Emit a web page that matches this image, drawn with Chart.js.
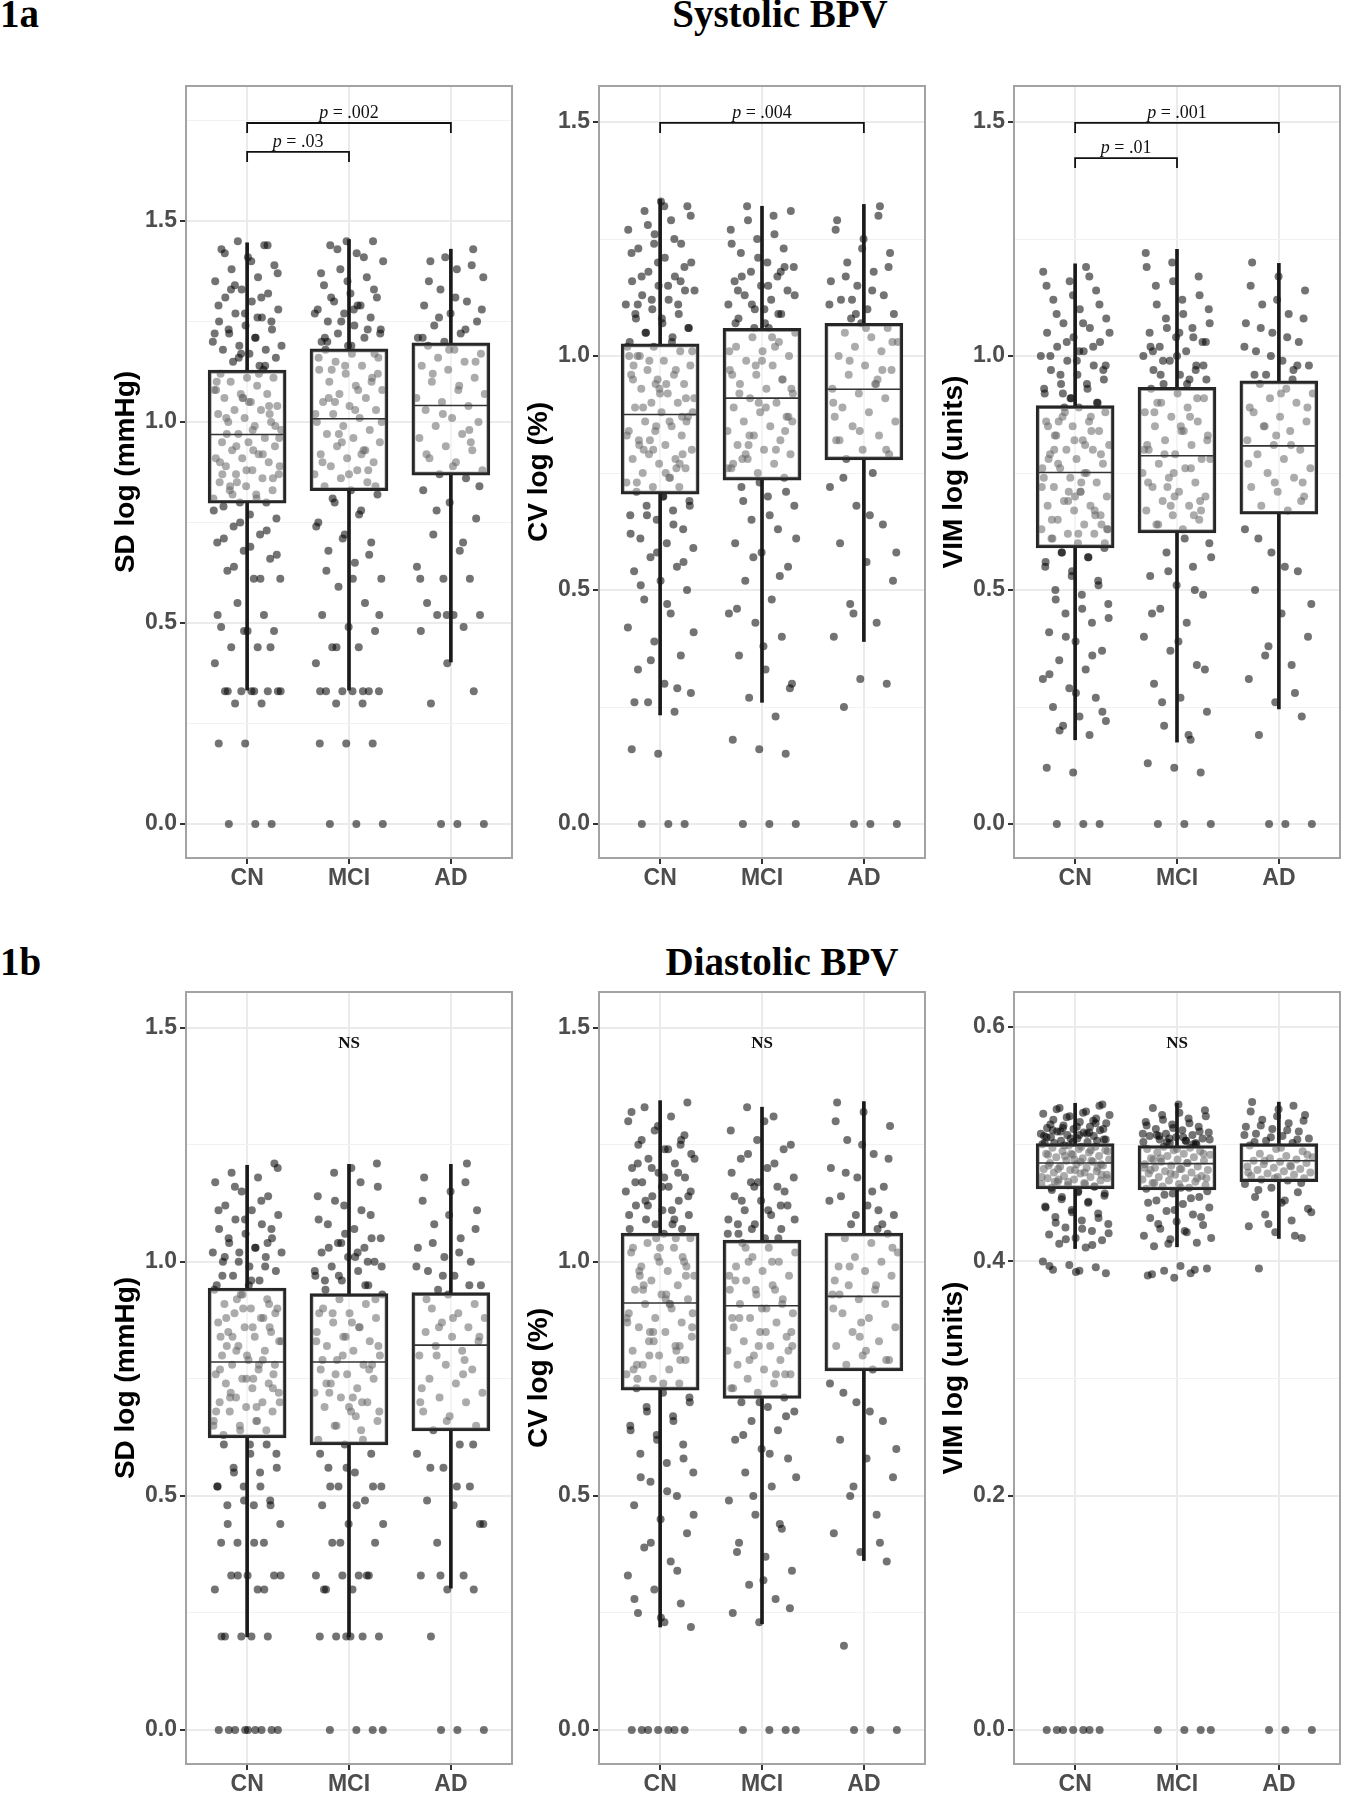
<!DOCTYPE html>
<html>
<head>
<meta charset="utf-8">
<script src="https://cdn.jsdelivr.net/npm/chart.js@4.4.1/dist/chart.umd.min.js"></script>
<style>
  body { margin: 0; background: #fff; width: 1353px; height: 1800px; position: relative; overflow: hidden; }
  .t { position: absolute; font-family: "Liberation Serif", "Times New Roman", serif; font-weight: bold;
       font-size: 39px; line-height: 39px; white-space: nowrap; color: #000; }
  canvas { position: absolute; }
</style>
</head>
<body>
<div class="t" style="left:0; top:-6px;">1a</div>
<div class="t" style="left:780px; top:-6px; transform:translateX(-50%);">Systolic BPV</div>
<div class="t" style="left:0; top:942px;">1b</div>
<div class="t" style="left:782px; top:942px; transform:translateX(-50%);">Diastolic BPV</div>

<script>
// Groups and tick labels
const groups = ['CN', 'MCI', 'AD'];
const ticksMain = [0, 0.5, 1.0, 1.5];
const ticksVimDia = [0, 0.2, 0.4, 0.6];

// Box stats per group: [whisker low, Q1, median, Q3, whisker high]
const sysSdBox  = [[0.333, 0.798, 0.969, 1.129, 1.446], [0.333, 0.829, 1.008, 1.182, 1.454], [0.403, 0.868, 1.041, 1.197, 1.430]];
const sysCvBox  = [[0.233, 0.705, 0.875, 1.026, 1.335], [0.260, 0.735, 0.910, 1.059, 1.320], [0.390, 0.778, 0.929, 1.070, 1.324]];
const sysVimBox = [[0.180, 0.590, 0.751, 0.894, 1.197], [0.175, 0.622, 0.787, 0.933, 1.228], [0.246, 0.662, 0.808, 0.947, 1.198]];
const diaSdBox  = [[0.199, 0.624, 0.786, 0.944, 1.206], [0.199, 0.609, 0.786, 0.932, 1.208], [0.303, 0.639, 0.822, 0.934, 1.208]];
const diaCvBox  = [[0.220, 0.726, 0.912, 1.061, 1.344], [0.227, 0.708, 0.906, 1.046, 1.330], [0.362, 0.767, 0.926, 1.061, 1.342]];
const diaVimBox = [[0.411, 0.462, 0.484, 0.5006, 0.535], [0.4125, 0.461, 0.4835, 0.499, 0.535], [0.4196, 0.468, 0.486, 0.5006, 0.536]];

// Individual subjects
const sysSdCN = [0,0,0,0.20,0.20,0.30,0.30,0.33,0.33,0.33,0.33,0.33,0.40,0.44,0.44,0.48,0.48,0.49,0.52,0.55,0.61,0.61,0.63,0.66,0.68,0.70,0.72,0.74,0.76,0.77,0.79,
  0.80,0.80,0.81,0.82,0.83,0.83,0.84,0.85,0.86,0.87,0.87,0.88,0.89,0.90,0.91,0.91,0.92,0.93,0.94,0.95,0.95,0.96,0.97,0.98,0.99,1.00,1.00,1.01,1.02,1.03,1.03,1.04,1.05,1.06,1.07,1.07,1.08,1.09,1.10,1.11,1.11,1.12,1.13,0.85,0.89,0.93,0.97,1.02,1.06,1.10,
  1.14,1.15,1.16,1.17,1.18,1.18,1.19,1.20,1.21,1.22,1.23,1.24,1.25,1.26,1.27,1.28,1.30,1.31,1.32,1.33,1.35,1.36,1.38,1.39,1.41,1.43,1.44,1.45,
  0.33,0.33,0.33,0.44,0.48,0.52,0.61,0.64,0.67,0.69,0.71,0.73,0.75,0.78,0.81,0.84,0.86,0.88,0.90,0.92,0.94,0.96,0.98,1.01,1.04,1.06,1.08,1.12,0.82,0.99,1.05,0.87,
  1.14,1.16,1.19,1.21,1.23,1.25,1.27,1.29,1.31,1.34,1.37,1.40,1.42,1.44,1.17,1.22,1.26,1.33];
const sysSdMCI = [0,0,0,0.20,0.20,0.20,0.30,0.30,0.33,0.33,0.33,0.33,0.33,0.40,0.44,0.44,0.48,0.49,0.52,0.55,0.59,0.61,0.65,0.68,0.70,0.72,0.75,0.78,0.80,0.82,
  0.83,0.84,0.85,0.86,0.87,0.88,0.89,0.90,0.91,0.92,0.93,0.94,0.95,0.96,0.97,0.98,0.99,1.00,1.01,1.02,1.03,1.04,1.05,1.06,1.07,1.08,1.09,1.10,1.11,1.12,1.13,1.14,1.15,1.16,1.17,1.18,0.88,0.95,1.02,1.08,1.13,1.17,
  1.19,1.20,1.21,1.22,1.23,1.24,1.25,1.26,1.27,1.28,1.29,1.30,1.31,1.32,1.34,1.36,1.38,1.40,1.42,1.44,1.45,1.45,
  0.33,0.33,0.44,0.52,0.61,0.63,0.67,0.71,0.74,0.77,0.81,0.84,0.87,0.90,0.93,0.97,1.00,1.03,1.06,1.10,1.14,1.16,0.92,1.05,1.12,
  1.19,1.21,1.23,1.25,1.27,1.29,1.31,1.33,1.35,1.37,1.41,1.43,1.22,1.28,1.20];
const sysSdAD = [0,0,0,0.30,0.33,0.40,0.48,0.49,0.52,0.52,0.52,0.55,0.61,0.61,0.64,0.68,0.72,0.76,0.80,0.83,0.86,
  0.87,0.88,0.90,0.91,0.93,0.94,0.96,0.97,0.99,1.00,1.01,1.03,1.04,1.05,1.07,1.08,1.10,1.11,1.13,1.14,1.15,1.16,1.17,1.18,1.19,0.95,
  1.20,1.21,1.22,1.24,1.25,1.27,1.29,1.30,1.33,1.36,1.38,1.40,1.43,
  0.52,0.61,0.70,0.78,0.84,0.89,0.92,0.98,1.02,1.06,1.09,1.12,1.15,1.18,1.21,1.23,1.26,1.28,1.31,1.35,1.39,1.41];

const sysCvCN = [0,0,0,0.15,0.16,0.24,0.26,0.28,0.30,0.33,0.36,0.39,0.42,0.45,0.48,0.50,0.52,0.54,0.55,0.57,0.59,0.60,0.61,0.63,0.65,0.66,0.67,0.68,0.69,0.70,
  0.71,0.72,0.72,0.73,0.74,0.75,0.76,0.77,0.78,0.78,0.79,0.80,0.81,0.82,0.83,0.84,0.84,0.85,0.86,0.87,0.88,0.89,0.90,0.90,0.91,0.92,0.93,0.94,0.95,0.96,0.96,0.97,0.98,0.99,1.00,1.01,1.02,1.02,0.74,0.80,0.86,0.92,0.98,0.76,0.82,0.88,0.94,1.00,0.79,0.85,
  1.03,1.04,1.05,1.06,1.07,1.08,1.09,1.10,1.11,1.12,1.13,1.14,1.15,1.16,1.17,1.18,1.20,1.21,1.23,1.24,1.26,1.27,1.29,1.31,1.32,1.33,
  0.26,0.29,0.35,0.41,0.47,0.51,0.56,0.58,0.62,0.64,0.66,0.68,0.70,0.73,0.77,0.80,0.83,0.86,0.89,0.91,0.93,0.95,0.97,0.99,1.01,0.75,0.81,0.87,0.94,1.00,
  1.03,1.05,1.06,1.08,1.09,1.11,1.12,1.14,1.15,1.17,1.19,1.20,1.22,1.25,1.28,1.30,1.32,1.11,1.16,1.24];
const sysCvMCI = [0,0,0,0.15,0.16,0.18,0.23,0.27,0.30,0.33,0.36,0.40,0.43,0.45,0.48,0.52,0.55,0.58,0.60,0.63,0.65,0.68,0.70,0.72,
  0.74,0.75,0.76,0.77,0.78,0.79,0.80,0.81,0.82,0.83,0.84,0.85,0.86,0.87,0.88,0.89,0.90,0.91,0.92,0.93,0.94,0.95,0.96,0.97,0.98,0.99,1.00,1.01,1.02,1.03,1.04,1.05,1.06,0.78,0.84,0.90,0.96,1.02,0.81,0.93,
  1.07,1.08,1.09,1.10,1.11,1.12,1.13,1.14,1.15,1.16,1.17,1.18,1.19,1.20,1.22,1.23,1.25,1.27,1.30,1.32,
  0.29,0.38,0.46,0.53,0.57,0.61,0.66,0.69,0.71,0.73,0.77,0.80,0.83,0.86,0.89,0.92,0.95,0.98,1.01,1.04,0.79,0.87,0.99,
  1.07,1.09,1.11,1.13,1.15,1.17,1.19,1.21,1.24,1.26,1.29,1.31,1.10,1.14,1.18,1.06,0.76];
const sysCvAD = [0,0,0,0.25,0.30,0.31,0.40,0.43,0.47,0.52,0.56,0.60,0.64,0.68,0.72,0.75,
  0.78,0.79,0.80,0.82,0.83,0.85,0.86,0.88,0.89,0.91,0.92,0.93,0.94,0.96,0.97,0.98,1.00,1.01,1.02,1.03,1.04,1.05,1.06,1.07,0.87,0.95,
  1.08,1.09,1.10,1.12,1.13,1.15,1.16,1.18,1.20,1.22,1.25,1.29,1.32,
  0.45,0.58,0.66,0.74,0.80,0.84,0.90,0.94,0.99,1.03,1.06,0.82,0.97,1.09,1.11,1.14,1.17,1.19,1.23,1.27,1.30,1.12];

const sysVimCN = [0,0,0,0.11,0.12,0.19,0.21,0.22,0.23,0.25,0.27,0.29,0.31,0.33,0.35,0.37,0.39,0.41,0.43,0.45,0.47,0.49,0.50,0.52,0.53,0.55,0.57,0.58,
  0.59,0.60,0.61,0.62,0.62,0.63,0.64,0.65,0.66,0.67,0.68,0.68,0.69,0.70,0.71,0.72,0.73,0.74,0.74,0.75,0.76,0.77,0.78,0.79,0.80,0.80,0.81,0.82,0.83,0.84,0.85,0.86,0.86,0.87,0.88,0.89,0.61,0.66,0.71,0.76,0.81,0.86,0.64,0.70,0.78,0.84,0.88,0.63,0.73,0.83,
  0.90,0.91,0.92,0.93,0.94,0.95,0.96,0.97,0.98,0.99,1.00,1.01,1.02,1.03,1.04,1.05,1.06,1.07,1.08,1.10,1.12,1.14,1.16,1.18,1.19,
  0.20,0.24,0.28,0.32,0.36,0.40,0.44,0.46,0.48,0.51,0.54,0.56,0.57,0.58,0.60,0.62,0.65,0.67,0.69,0.72,0.75,0.77,0.79,0.82,0.85,0.87,0.89,0.63,0.71,0.80,
  0.90,0.91,0.93,0.94,0.96,0.97,0.99,1.00,1.02,1.03,1.05,1.07,1.09,1.11,1.13,1.15,1.17,0.92,0.98,1.01];
const sysVimMCI = [0,0,0,0.11,0.12,0.13,0.18,0.21,0.24,0.27,0.30,0.34,0.37,0.40,0.43,0.46,0.49,0.51,0.53,0.55,0.58,0.60,
  0.63,0.64,0.65,0.66,0.67,0.68,0.69,0.70,0.71,0.72,0.73,0.74,0.75,0.76,0.77,0.78,0.79,0.80,0.81,0.82,0.83,0.84,0.85,0.86,0.87,0.88,0.89,0.90,0.91,0.92,0.93,0.66,0.72,0.78,0.84,0.90,0.69,0.75,0.81,0.87,
  0.94,0.95,0.96,0.97,0.98,0.99,1.00,1.01,1.02,1.03,1.04,1.05,1.06,1.08,1.10,1.12,1.15,1.17,1.20,1.22,
  0.19,0.26,0.33,0.39,0.45,0.50,0.54,0.57,0.61,0.64,0.67,0.70,0.73,0.76,0.79,0.82,0.85,0.88,0.91,0.68,0.80,
  0.94,0.96,0.98,1.00,1.02,1.04,1.06,1.07,1.09,1.11,1.13,1.16,1.19,0.95,0.99,1.03,1.05,1.01,0.97];
const sysVimAD = [0,0,0,0.19,0.23,0.26,0.31,0.34,0.36,0.40,0.45,0.50,0.54,0.58,0.63,
  0.67,0.68,0.70,0.71,0.72,0.74,0.75,0.76,0.78,0.79,0.80,0.81,0.82,0.84,0.85,0.86,0.87,0.88,0.90,0.91,0.92,0.93,0.94,0.73,0.83,0.89,
  0.95,0.96,0.98,0.99,1.01,1.03,1.05,1.07,1.09,1.11,1.14,1.17,1.20,
  0.28,0.38,0.47,0.55,0.61,0.69,0.73,0.77,0.81,0.85,0.89,0.92,0.96,0.98,1.00,1.02,1.04,1.06,1.08,1.12,1.15,0.97];

const diaSdCN = [0,0,0,0,0,0,0,0,0.20,0.20,0.20,0.20,0.30,0.30,0.33,0.33,0.33,0.40,0.40,0.40,0.44,0.48,0.48,0.49,0.52,0.52,0.55,0.56,0.59,0.61,
  0.63,0.64,0.65,0.65,0.66,0.68,0.68,0.69,0.70,0.70,0.71,0.72,0.73,0.74,0.74,0.75,0.76,0.77,0.78,0.78,0.79,0.80,0.81,0.82,0.83,0.84,0.85,0.85,0.86,0.87,0.88,0.89,0.90,0.90,0.91,0.92,0.93,0.94,0.66,0.72,0.76,0.80,0.84,0.88,0.92,0.70,0.75,0.82,0.86,0.90,
  0.95,0.96,0.97,0.98,0.99,1.00,1.01,1.02,1.02,1.03,1.04,1.05,1.06,1.07,1.08,1.09,1.10,1.11,1.12,1.14,1.15,1.17,1.18,1.19,1.21,
  0,0.20,0.30,0.33,0.33,0.40,0.44,0.48,0.49,0.52,0.52,0.55,0.56,0.59,0.61,0.61,0.64,0.66,0.69,0.71,0.73,0.75,0.77,0.79,0.81,0.83,0.86,0.88,0.91,0.93,0.68,0.78,0.84,0.89,
  0.95,0.97,0.99,1.00,1.02,1.03,1.05,1.07,1.09,1.11,1.13,1.16,1.20,0.96,1.01,1.04];
const diaSdMCI = [0,0,0,0,0.20,0.20,0.20,0.20,0.20,0.30,0.30,0.33,0.33,0.33,0.33,0.40,0.40,0.44,0.48,0.49,0.52,0.52,0.55,0.56,0.59,
  0.61,0.62,0.64,0.65,0.66,0.68,0.69,0.70,0.71,0.72,0.73,0.74,0.75,0.76,0.77,0.78,0.79,0.80,0.81,0.82,0.83,0.84,0.85,0.86,0.87,0.88,0.89,0.90,0.91,0.92,0.93,0.67,0.72,0.78,0.84,0.89,0.70,0.76,0.82,0.87,
  0.94,0.95,0.96,0.97,0.98,0.99,1.00,1.01,1.02,1.03,1.04,1.05,1.07,1.08,1.10,1.12,1.14,1.17,1.19,1.21,
  0.20,0.30,0.33,0.40,0.44,0.48,0.52,0.52,0.56,0.59,0.62,0.65,0.68,0.71,0.74,0.77,0.80,0.83,0.86,0.89,0.92,0.69,0.79,
  0.95,0.97,0.99,1.01,1.03,1.05,1.06,1.09,1.11,1.13,1.16,1.20,0.96,1.00,1.04,0.98,1.02];
const diaSdAD = [0,0,0,0.20,0.30,0.30,0.33,0.33,0.40,0.44,0.48,0.49,0.52,0.56,0.59,0.61,
  0.64,0.65,0.67,0.68,0.70,0.71,0.72,0.74,0.75,0.77,0.78,0.80,0.81,0.82,0.83,0.84,0.85,0.86,0.87,0.88,0.89,0.90,0.91,0.93,0.73,0.79,
  0.94,0.95,0.97,0.98,1.00,1.01,1.03,1.05,1.08,1.11,1.15,1.18,1.21,
  0.33,0.44,0.52,0.56,0.61,0.66,0.70,0.76,0.80,0.84,0.88,0.92,0.95,0.97,0.99,1.02,1.04,1.07,1.10,1.13,1.17,0.86];

const diaCvCN = [0,0,0,0,0,0,0,0.22,0.23,0.25,0.27,0.30,0.33,0.36,0.39,0.42,0.45,0.48,0.50,0.53,0.55,0.57,0.59,0.61,0.63,0.65,0.67,0.69,0.71,0.72,
  0.73,0.74,0.75,0.76,0.77,0.78,0.79,0.80,0.81,0.82,0.83,0.84,0.85,0.86,0.87,0.88,0.89,0.90,0.91,0.92,0.93,0.94,0.95,0.96,0.97,0.98,0.99,1.00,1.01,1.02,1.03,1.04,1.05,1.06,0.75,0.79,0.83,0.87,0.91,0.95,0.99,1.03,0.77,0.81,0.85,0.89,0.93,0.97,1.01,1.05,
  1.07,1.08,1.09,1.10,1.11,1.12,1.13,1.14,1.15,1.16,1.17,1.18,1.19,1.20,1.21,1.22,1.23,1.24,1.25,1.26,1.28,1.30,1.31,1.33,1.34,
  0.24,0.28,0.34,0.40,0.46,0.51,0.54,0.58,0.62,0.64,0.66,0.68,0.70,0.74,0.78,0.82,0.85,0.88,0.91,0.94,0.97,1.00,1.03,1.05,0.80,0.86,0.92,0.98,
  1.07,1.08,1.10,1.11,1.13,1.14,1.16,1.17,1.19,1.20,1.22,1.24,1.26,1.27,1.29,1.32,1.09,1.12,1.15,1.18,1.21,1.25];
const diaCvMCI = [0,0,0,0,0.23,0.25,0.28,0.31,0.34,0.37,0.40,0.43,0.46,0.49,0.52,0.55,0.58,0.60,0.62,0.64,0.66,0.68,0.69,0.70,
  0.71,0.72,0.73,0.74,0.75,0.76,0.77,0.78,0.79,0.80,0.81,0.82,0.83,0.84,0.85,0.86,0.87,0.88,0.89,0.90,0.91,0.92,0.93,0.94,0.95,0.96,0.97,0.98,0.99,1.00,1.01,1.02,1.03,1.04,0.76,0.82,0.88,0.94,1.00,0.85,
  1.05,1.06,1.07,1.08,1.09,1.10,1.11,1.12,1.13,1.14,1.16,1.17,1.18,1.20,1.22,1.24,1.26,1.28,1.31,1.33,
  0.26,0.32,0.38,0.44,0.50,0.54,0.59,0.63,0.67,0.70,0.73,0.76,0.79,0.82,0.85,0.88,0.91,0.94,0.97,1.00,1.03,0.81,0.90,0.96,
  1.05,1.07,1.09,1.11,1.13,1.15,1.17,1.19,1.21,1.23,1.25,1.30,1.08,1.12,1.16,1.06];
const diaCvAD = [0,0,0,0.18,0.36,0.38,0.42,0.46,0.50,0.54,0.58,0.62,0.66,0.70,0.74,
  0.77,0.78,0.79,0.80,0.82,0.83,0.85,0.86,0.88,0.89,0.91,0.92,0.93,0.94,0.95,0.97,0.98,0.99,1.00,1.01,1.02,1.04,1.05,1.06,0.87,0.96,
  1.07,1.08,1.10,1.12,1.14,1.16,1.18,1.20,1.23,1.26,1.29,1.32,1.34,
  0.40,0.52,0.60,0.68,0.72,0.79,0.84,0.90,0.95,0.99,1.03,0.81,0.93,1.08,1.10,1.13,1.15,1.19,1.22,1.25,1.30,1.11];

const diaVimCN = [0,0,0,0,0,0,0,0.390,0.392,0.393,0.395,0.397,0.400,0.412,0.415,0.418,0.420,0.423,0.426,0.429,0.432,0.435,0.438,0.441,0.444,0.447,0.450,0.453,0.456,0.459,
  0.463,0.464,0.465,0.466,0.467,0.468,0.469,0.470,0.471,0.472,0.473,0.474,0.475,0.476,0.477,0.478,0.479,0.480,0.481,0.482,0.483,0.484,0.485,0.486,0.487,0.488,0.489,0.490,0.491,0.492,0.493,0.494,0.495,0.496,0.497,0.498,0.499,0.500,0.466,0.470,0.474,0.478,0.482,0.486,0.490,0.494,0.498,0.468,0.480,0.492,
  0.501,0.502,0.503,0.504,0.505,0.506,0.507,0.508,0.509,0.510,0.511,0.512,0.513,0.514,0.515,0.516,0.518,0.519,0.521,0.522,0.524,0.526,0.528,0.531,0.534,
  0.391,0.396,0.414,0.419,0.424,0.428,0.433,0.437,0.442,0.446,0.451,0.455,0.458,0.460,0.461,0.464,0.468,0.472,0.476,0.479,0.483,0.487,0.491,0.495,0.499,0.471,0.485,
  0.501,0.503,0.505,0.507,0.509,0.511,0.513,0.515,0.517,0.520,0.523,0.525,0.527,0.530,0.533,0.502,0.506,0.510,0.514,0.504,0.508,0.512,0.518];
const diaVimMCI = [0,0,0,0,0.386,0.388,0.390,0.392,0.394,0.396,0.413,0.416,0.419,0.422,0.425,0.428,0.431,0.434,0.437,0.440,0.443,0.446,0.449,0.452,0.455,0.458,
  0.462,0.463,0.464,0.465,0.466,0.467,0.468,0.469,0.470,0.471,0.472,0.473,0.474,0.475,0.476,0.477,0.478,0.479,0.480,0.481,0.482,0.483,0.484,0.485,0.486,0.487,0.488,0.489,0.490,0.491,0.492,0.493,0.494,0.495,0.496,0.497,0.498,0.471,0.479,0.487,
  0.500,0.501,0.502,0.503,0.504,0.505,0.506,0.507,0.508,0.509,0.510,0.512,0.513,0.515,0.517,0.519,0.522,0.525,0.529,0.534,
  0.389,0.393,0.415,0.420,0.426,0.432,0.438,0.444,0.450,0.454,0.457,0.460,0.463,0.467,0.471,0.475,0.480,0.484,0.488,0.492,0.496,0.478,
  0.500,0.502,0.504,0.506,0.508,0.511,0.514,0.516,0.518,0.521,0.524,0.527,0.531,0.501,0.505,0.509,0.503,0.507];
const diaVimAD = [0,0,0,0.394,0.420,0.425,0.430,0.435,0.440,0.445,0.450,0.455,0.459,0.463,0.466,
  0.469,0.470,0.471,0.472,0.473,0.474,0.475,0.476,0.477,0.478,0.479,0.480,0.481,0.482,0.483,0.484,0.485,0.486,0.487,0.488,0.489,0.490,0.492,0.494,0.496,0.499,
  0.501,0.503,0.505,0.507,0.509,0.511,0.513,0.515,0.518,0.521,0.525,0.530,0.536,
  0.422,0.432,0.442,0.452,0.461,0.467,0.471,0.476,0.481,0.486,0.491,0.497,0.502,0.504,0.506,0.508,0.512,0.516,0.520,0.524,0.528,0.533];

// Significance brackets: [from group, to group, bracket height, p value]
const sysSdPairs  = [[1, 3, 1.744, '.002'], [1, 2, 1.672, '.03']];
const sysCvPairs  = [[1, 3, 1.498, '.004']];
const sysVimPairs = [[1, 3, 1.498, '.001'], [1, 2, 1.423, '.01']];
// Position of the "NS" label (y value) for the diastolic panels
const diaSdNs = 1.466, diaCvNs = 1.466, diaVimNs = 0.586;

const SANS = '"Liberation Sans", Arial, sans-serif';
const SERIF = '"Liberation Serif", "Times New Roman", serif';

const panels = [
  { left: 186, top: 86,  ymin: -0.0846, ymax: 1.836, ticks: ticksMain, step: 0.5, title: 'SD log (mmHg)',   pts: [sysSdCN, sysSdMCI, sysSdAD],    box: sysSdBox,  pairs: sysSdPairs },
  { left: 599, top: 86,  ymin: -0.0726, ymax: 1.577, ticks: ticksMain, step: 0.5, title: 'CV log (%)',      pts: [sysCvCN, sysCvMCI, sysCvAD],    box: sysCvBox,  pairs: sysCvPairs },
  { left: 1014, top: 86, ymin: -0.0726, ymax: 1.577, ticks: ticksMain, step: 0.5, title: 'VIM log (units)', pts: [sysVimCN, sysVimMCI, sysVimAD], box: sysVimBox, pairs: sysVimPairs },
  { left: 186, top: 992,  ymin: -0.0725, ymax: 1.576, ticks: ticksMain, step: 0.5, title: 'SD log (mmHg)',   pts: [diaSdCN, diaSdMCI, diaSdAD],    box: diaSdBox,  ns: diaSdNs },
  { left: 599, top: 992,  ymin: -0.0725, ymax: 1.576, ticks: ticksMain, step: 0.5, title: 'CV log (%)',      pts: [diaCvCN, diaCvMCI, diaCvAD],    box: diaCvBox,  ns: diaCvNs },
  { left: 1014, top: 992, ymin: -0.029,  ymax: 0.630, ticks: ticksVimDia, step: 0.2, title: 'VIM log (units)', pts: [diaVimCN, diaVimMCI, diaVimAD], box: diaVimBox, ns: diaVimNs }
];

// deterministic horizontal jitter so points spread across the group
function jitter(i, g) {
  const u = ((i + 1) * 0.6180339887 + g * 0.37) % 1;
  return (u * 2 - 1) * 0.34;
}

// border, p-value brackets and NS labels
function notesPlugin(p) {
  return {
    id: 'notes',
    afterDatasetsDraw(chart) {
      const { ctx, chartArea: a, scales: { x, y } } = chart;
      ctx.save();
      ctx.strokeStyle = '#a3a3a3';
      ctx.lineWidth = 2;
      ctx.strokeRect(a.left, a.top, a.width, a.height);

      (p.pairs || []).forEach(([g1, g2, h, pv]) => {
        const x1 = x.getPixelForValue(g1), x2 = x.getPixelForValue(g2), yb = y.getPixelForValue(h);
        ctx.strokeStyle = '#111';
        ctx.lineWidth = 1.8;
        ctx.beginPath();
        ctx.moveTo(x1, yb + 10);
        ctx.lineTo(x1, yb);
        ctx.lineTo(x2, yb);
        ctx.lineTo(x2, yb + 10);
        ctx.stroke();
        const rest = ' = ' + pv;
        ctx.font = 'italic 18px ' + SERIF;
        const wp = ctx.measureText('p').width;
        ctx.font = '18px ' + SERIF;
        const wr = ctx.measureText(rest).width;
        const xs = (x1 + x2) / 2 - (wp + wr) / 2;
        ctx.fillStyle = '#111';
        ctx.textBaseline = 'alphabetic';
        ctx.textAlign = 'left';
        ctx.font = 'italic 18px ' + SERIF;
        ctx.fillText('p', xs, yb - 5);
        ctx.font = '18px ' + SERIF;
        ctx.fillText(rest, xs + wp, yb - 5);
      });

      if (p.ns !== undefined) {
        ctx.font = 'bold 17px ' + SERIF;
        ctx.fillStyle = '#111';
        ctx.textAlign = 'center';
        ctx.textBaseline = 'middle';
        ctx.fillText('NS', x.getPixelForValue(2), y.getPixelForValue(p.ns));
      }
      ctx.restore();
    }
  };
}

panels.forEach(p => {
  const cv = document.createElement('canvas');
  cv.width = 442;
  cv.height = 828;
  cv.style.left = (p.left - 110) + 'px';
  cv.style.top = (p.top - 6) + 'px';
  document.body.appendChild(cv);

  // major ticks plus minor half-steps
  const allTicks = [];
  for (let v = 0; v <= p.ymax + 1e-9; v += p.step / 2) allTicks.push(Math.round(v * 1000) / 1000);
  const isMajor = v => p.ticks.some(t => Math.abs(t - v) < 1e-6);

  const points = [];
  p.pts.forEach((vals, g) => vals.forEach((v, i) => points.push({ x: g + 1 + jitter(i, g), y: v })));
  const whiskers = [], boxes = [], medians = [];
  p.box.forEach((b, g) => {
    whiskers.push({ x: g + 1, y: [b[0], b[1]] }, { x: g + 1, y: [b[3], b[4]] });
    boxes.push({ x: g + 1, y: [b[1], b[3]] });
    medians.push({ x: g + 1, y: b[2] });
  });

  new Chart(cv.getContext('2d'), {
    type: 'scatter',
    data: {
      datasets: [
        { type: 'scatter', data: points, order: 4, pointRadius: 4, pointHoverRadius: 4,
          backgroundColor: 'rgba(0,0,0,0.55)', borderWidth: 0 },
        { type: 'bar', data: whiskers, order: 3, grouped: false, barThickness: 3,
          backgroundColor: '#1a1a1a', borderWidth: 0 },
        { type: 'bar', data: boxes, order: 2, grouped: false, barThickness: 78,
          backgroundColor: 'rgba(255,255,255,0.4)', borderColor: '#262626', borderWidth: 3, borderSkipped: false },
        { type: 'scatter', data: medians, order: 1, pointStyle: 'line', pointRadius: 37.5, pointHoverRadius: 37.5,
          borderColor: '#333', pointBorderWidth: 1.6, backgroundColor: '#333' }
      ]
    },
    options: {
      responsive: false,
      devicePixelRatio: 1,
      animation: false,
      events: [],
      layout: { autoPadding: false, padding: { left: 0, top: 6, right: 6, bottom: 0 } },
      plugins: { legend: { display: false }, tooltip: { enabled: false } },
      scales: {
        x: {
          type: 'linear', min: 0.4, max: 3.6, offset: false,
          afterBuildTicks: ax => { ax.ticks = [1, 2, 3].map(v => ({ value: v })); },
          afterFit: ax => { ax.height = 50; ax.paddingLeft = 0; ax.paddingRight = 0; },
          ticks: { callback: v => groups[Math.round(v) - 1], autoSkip: false, maxRotation: 0,
                   font: { family: SANS, size: 23, weight: 'bold' }, color: '#4d4d4d', padding: 1 },
          grid: { offset: false, color: '#ebebeb', lineWidth: 2, tickLength: 6, tickColor: '#333', tickWidth: 2 },
          border: { display: false }
        },
        y: {
          type: 'linear', min: p.ymin, max: p.ymax,
          afterBuildTicks: ax => { ax.ticks = allTicks.map(v => ({ value: v })); },
          afterFit: ax => { ax.width = 110; ax.paddingTop = 0; ax.paddingBottom = 0; },
          ticks: { callback: v => isMajor(v) ? v.toFixed(1) : '', autoSkip: false,
                   font: { family: SANS, size: 23, weight: 'bold' }, color: '#4d4d4d', padding: 3 },
          grid: {
            color: c => isMajor(c.tick.value) ? '#ebebeb' : '#f2f2f2',
            lineWidth: c => isMajor(c.tick.value) ? 2 : 1,
            tickLength: 6,
            tickColor: c => isMajor(c.tick.value) ? '#333' : 'rgba(0,0,0,0)',
            tickWidth: 2
          },
          border: { display: false },
          title: { display: true, text: p.title, color: '#000',
                   font: { family: SANS, size: 28, weight: 'bold' }, padding: { top: 33, bottom: 0 } }
        }
      }
    },
    plugins: [notesPlugin(p)]
  });
});
</script>
</body>
</html>
